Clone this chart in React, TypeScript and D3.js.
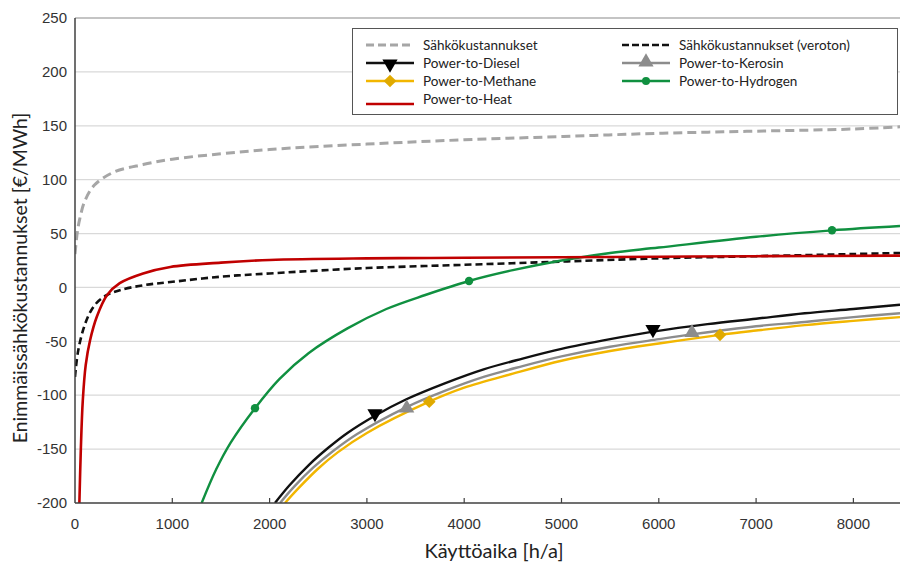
import React, { useEffect, useRef } from "react";
import * as d3 from "d3";

type Pt = [number, number];

// Values (x = h/a, y = €/MWh)
const sahko: Pt[] = [
  [0, 31], [25, 52], [50, 64], [100, 80], [200, 95], [400, 107], [700, 114], [1000, 119],
  [1500, 124], [2000, 128], [3000, 133], [4000, 137], [5000, 140], [6000, 143], [7000, 145],
  [8000, 147], [8479, 149],
];
const sahkoVeroton: Pt[] = [
  [0, -83], [30, -60], [85, -39], [150, -24], [225, -14], [330, -7], [460, -2.5], [700, 2],
  [980, 5], [1500, 10], [2000, 13], [3000, 18], [4000, 21], [5000, 24], [6000, 27],
  [7000, 29], [8000, 31], [8479, 32],
];
const ptHeat: Pt[] = [
  [45, -200], [60, -150], [80, -105], [110, -72], [155, -49], [225, -27], [330, -7],
  [460, 4], [700, 13], [980, 19], [1500, 23], [2000, 25.5], [3000, 27], [4000, 27.5],
  [5000, 28], [6000, 28.5], [7000, 29], [8479, 29.5],
];
const ptHydrogen: Pt[] = [
  [1302, -200], [1450, -169], [1600, -144], [1850, -112], [2100, -85], [2400, -61],
  [2800, -38], [3200, -20], [3600, -7], [4050, 6], [4500, 16], [5000, 25], [5500, 32],
  [6000, 37], [7000, 47], [7780, 53], [8479, 57],
];
const ptDiesel: Pt[] = [
  [2055, -200], [2200, -184], [2400, -165], [2600, -149], [2800, -135], [3083, -119],
  [3400, -104], [3800, -89], [4200, -76], [4600, -66], [5000, -57], [5500, -48],
  [5940, -41], [6500, -34], [7000, -29], [7500, -24], [8000, -20], [8479, -16],
];
const ptKerosin: Pt[] = [
  [2107, -200], [2250, -185], [2450, -167], [2650, -152], [2900, -136], [3409, -111],
  [3800, -96], [4200, -83], [4600, -73], [5000, -64], [5500, -55], [6000, -48],
  [6341, -43.5], [7000, -36], [7500, -32], [8000, -27.5], [8479, -24],
];
const ptMethane: Pt[] = [
  [2158, -200], [2300, -186], [2500, -168], [2700, -153], [3000, -135], [3641, -106],
  [4000, -93], [4500, -80], [5000, -68], [5500, -59], [6000, -52], [6629, -44],
  [7000, -40], [7500, -35], [8000, -31], [8479, -27.5],
];

const dieselMarkers: Pt[] = [[3083, -117], [5940, -39]];
const kerosinMarkers: Pt[] = [[3409, -112], [6341, -42]];
const methaneMarkers: Pt[] = [[3641, -106], [6629, -44]];
const hydrogenMarkers: Pt[] = [[1850, -112], [4050, 6], [7780, 53]];

const xTicks = [0, 1000, 2000, 3000, 4000, 5000, 6000, 7000, 8000];
const yTicks = [-200, -150, -100, -50, 0, 50, 100, 150, 200, 250];

const App = () => {
  const svgRef = useRef<SVGSVGElement>(null);

  useEffect(() => {
    const width = 900;
    const height = 562;
    const left = 75, right = 900, top = 18, bottom = 503;

    const svg = d3.select(svgRef.current);
    svg.selectAll("*").remove();
    svg.attr("width", width).attr("height", height);

    const x = d3.scaleLinear().domain([0, 8479]).range([left, right]);
    const y = d3.scaleLinear().domain([-200, 250]).range([bottom, top]);

    // clip
    svg.append("defs").append("clipPath").attr("id", "plot")
      .append("rect").attr("x", left).attr("y", top)
      .attr("width", right - left).attr("height", bottom - top);

    // gridlines
    svg.append("g")
      .selectAll("line")
      .data(yTicks.filter(d => d > -200 && d < 250))
      .join("line")
      .attr("x1", left).attr("x2", right)
      .attr("y1", d => y(d)).attr("y2", d => y(d))
      .attr("stroke", "#d9d9d9").attr("stroke-width", 1.2);

    svg.append("line")
      .attr("x1", left).attr("x2", right)
      .attr("y1", y(250)).attr("y2", y(250))
      .attr("stroke", "#8a8a8a").attr("stroke-width", 1.2);

    // y tick labels
    svg.append("g")
      .selectAll("text")
      .data(yTicks)
      .join("text")
      .attr("x", 67).attr("y", d => y(d))
      .attr("dy", "0.35em")
      .attr("text-anchor", "end")
      .style("font-family", "'Liberation Sans', Arial, sans-serif")
      .style("font-size", "15px")
      .attr("fill", "#333")
      .text(d => d);

    // x ticks + labels
    svg.append("g")
      .selectAll("line")
      .data(xTicks.filter(d => d > 0))
      .join("line")
      .attr("x1", d => x(d)).attr("x2", d => x(d))
      .attr("y1", bottom).attr("y2", bottom - 5)
      .attr("stroke", "#404040").attr("stroke-width", 1.2);

    svg.append("g")
      .selectAll("text")
      .data(xTicks)
      .join("text")
      .attr("x", d => x(d)).attr("y", 529)
      .attr("text-anchor", "middle")
      .style("font-family", "'Liberation Sans', Arial, sans-serif")
      .style("font-size", "15px")
      .attr("fill", "#333")
      .text(d => d);

    const line = d3.line<Pt>()
      .x(d => x(d[0]))
      .y(d => y(d[1]))
      .curve(d3.curveCatmullRom.alpha(0.5));

    const plot = svg.append("g").attr("clip-path", "url(#plot)");

    const series = [
      { data: sahko, color: "#a6a6a6", w: 3, dash: "9,5" },
      { data: sahkoVeroton, color: "#111", w: 2.6, dash: "7,4" },
      { data: ptHydrogen, color: "#109040", w: 2.4, dash: null },
      { data: ptMethane, color: "#f2b600", w: 2.4, dash: null },
      { data: ptKerosin, color: "#8c8c8c", w: 2.4, dash: null },
      { data: ptDiesel, color: "#111", w: 2.4, dash: null },
      { data: ptHeat, color: "#c00000", w: 2.6, dash: null },
    ];

    series.forEach(s => {
      plot.append("path")
        .datum(s.data)
        .attr("d", line)
        .attr("fill", "none")
        .attr("stroke", s.color)
        .attr("stroke-width", s.w)
        .attr("stroke-dasharray", s.dash);
    });

    const tri = d3.symbol().type(d3.symbolTriangle).size(100);
    const square = d3.symbol().type(d3.symbolSquare).size(80);

    plot.selectAll(".dm").data(dieselMarkers).join("path")
      .attr("transform", d => `translate(${x(d[0])},${y(d[1])}) rotate(180)`)
      .attr("d", tri()).attr("fill", "#000");
    plot.selectAll(".km").data(kerosinMarkers).join("path")
      .attr("transform", d => `translate(${x(d[0])},${y(d[1])})`)
      .attr("d", tri()).attr("fill", "#8c8c8c");
    plot.selectAll(".mm").data(methaneMarkers).join("path")
      .attr("transform", d => `translate(${x(d[0])},${y(d[1])}) rotate(45)`)
      .attr("d", square()).attr("fill", "#e0aa00");
    plot.selectAll(".hm").data(hydrogenMarkers).join("circle")
      .attr("cx", d => x(d[0])).attr("cy", d => y(d[1]))
      .attr("r", 4.2).attr("fill", "#109040");

    // axes lines
    svg.append("line")
      .attr("x1", left).attr("x2", left).attr("y1", top).attr("y2", bottom)
      .attr("stroke", "#404040").attr("stroke-width", 1.5);
    svg.append("line")
      .attr("x1", left).attr("x2", right).attr("y1", bottom).attr("y2", bottom)
      .attr("stroke", "#404040").attr("stroke-width", 1.5);

    // axis titles
    svg.append("text")
      .attr("x", 494).attr("y", 558)
      .attr("text-anchor", "middle")
      .style("font-family", "Lato, 'Open Sans', sans-serif")
      .style("font-size", "20px")
      .attr("fill", "#222")
      .text("Käyttöaika [h/a]");

    svg.append("text")
      .attr("transform", "translate(27,278) rotate(-90)")
      .attr("text-anchor", "middle")
      .style("font-family", "Lato, 'Open Sans', sans-serif")
      .style("font-size", "19.5px")
      .attr("fill", "#222")
      .text("Enimmäissähkökustannukset [€/MWh]");

    // legend
    const legend = svg.append("g");
    legend.append("rect")
      .attr("x", 352.5).attr("y", 28.5).attr("width", 545).attr("height", 86)
      .attr("fill", "#fff").attr("stroke", "#555").attr("stroke-width", 1);

    const items = [
      { label: "Sähkökustannukset", col: 0, row: 0, color: "#a6a6a6", dash: "8,4", w: 3, mark: null },
      { label: "Sähkökustannukset (veroton)", col: 1, row: 0, color: "#111", dash: "7,3", w: 2.5, mark: null },
      { label: "Power-to-Diesel", col: 0, row: 1, color: "#111", dash: null, w: 2.5, mark: "down" },
      { label: "Power-to-Kerosin", col: 1, row: 1, color: "#8c8c8c", dash: null, w: 2.5, mark: "up" },
      { label: "Power-to-Methane", col: 0, row: 2, color: "#f2b600", dash: null, w: 2.5, mark: "diamond" },
      { label: "Power-to-Hydrogen", col: 1, row: 2, color: "#109040", dash: null, w: 2.5, mark: "circle" },
      { label: "Power-to-Heat", col: 0, row: 3, color: "#c00000", dash: null, w: 2.5, mark: null },
    ];

    items.forEach(it => {
      const x0 = it.col === 0 ? 366 : 622;
      const ty = 45 + it.row * 18;
      const ly = ty + (it.row === 3 ? 5 : 0);
      const g = legend.append("g");
      g.append("line")
        .attr("x1", x0).attr("x2", x0 + 48).attr("y1", ly).attr("y2", ly)
        .attr("stroke", it.color).attr("stroke-width", it.w)
        .attr("stroke-dasharray", it.dash);
      const cx = x0 + 24;
      if (it.mark === "down") {
        g.append("path").attr("transform", `translate(${cx},${ly + 1}) rotate(180)`)
          .attr("d", tri()).attr("fill", "#000");
      } else if (it.mark === "up") {
        g.append("path").attr("transform", `translate(${cx},${ly - 1})`)
          .attr("d", tri()).attr("fill", "#8c8c8c");
      } else if (it.mark === "diamond") {
        g.append("path").attr("transform", `translate(${cx},${ly}) rotate(45)`)
          .attr("d", square()).attr("fill", "#e0aa00");
      } else if (it.mark === "circle") {
        g.append("circle").attr("cx", cx).attr("cy", ly).attr("r", 4).attr("fill", "#109040");
      }
      g.append("text")
        .attr("x", x0 + 57).attr("y", ty)
        .attr("dy", "0.35em")
        .style("font-family", "Lato, 'Open Sans', sans-serif")
        .style("font-size", "13.5px")
        .attr("fill", "#222")
        .text(it.label);
    });
  }, []);

  return (
    <div style={{ position: "absolute", left: 0, top: 0 }}>
      <svg ref={svgRef}></svg>
    </div>
  );
};

export default App;
